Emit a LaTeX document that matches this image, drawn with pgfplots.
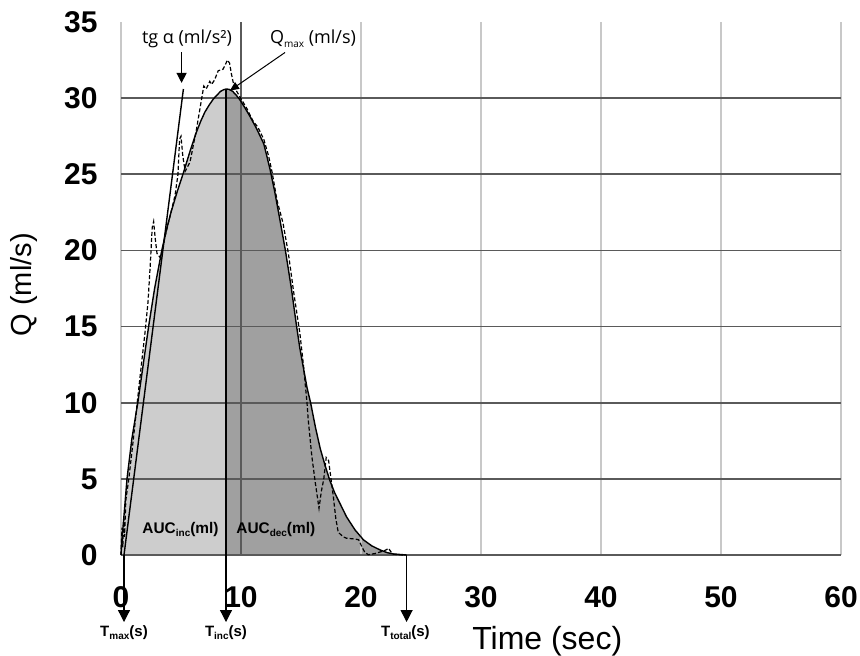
\documentclass[border=0pt]{standalone}
\usepackage{fontspec}
\setmainfont{Liberation Sans}
\newfontfamily\annfont{Open Sans}
\usepackage{pgfplots}
\pgfplotsset{compat=1.18}
\usetikzlibrary{arrows.meta}

\definecolor{incfill}{RGB}{205,205,205}
\definecolor{decfill}{RGB}{160,160,160}
\definecolor{hgrid}{RGB}{90,90,90}
\definecolor{vgrid}{RGB}{200,200,200}

\newcommand{\sub}[1]{\raisebox{-0.35ex}{\fontsize{5}{6}\selectfont #1}}

\begin{document}
\begin{tikzpicture}
\begin{axis}[
  at={(0,0)}, anchor=south west,
  scale only axis, width=360pt, height=266.5pt,
  xmin=0, xmax=60, ymin=0, ymax=35,
  xtick={0,10,...,60}, ytick={0,5,...,30},
  extra y ticks={35}, extra y tick style={grid=none},
  axis line style={draw=none},
  major tick length=0pt,
  xmajorgrids, ymajorgrids,
  every axis x grid/.style={vgrid, line width=0.7pt},
  every axis y grid/.style={hgrid, line width=0.8pt},
  ticklabel style={font=\fontsize{15}{17}\selectfont\bfseries, inner sep=0pt},
  xticklabel style={yshift=-15.5pt},
  yticklabel style={xshift=-11.5pt},
  /pgf/number format/assume math mode=true,
  set layers,
  clip=false,
]
% AUC fills under the fitted curve
\addplot[draw=none, fill=incfill, on layer=axis background] coordinates {
(0,0) (0.1,1.2) (0.25,2.6) (0.5,5) (0.9,7.6) (1.4,10) (1.85,12.5) (2.3,15)
(2.8,17.5) (3.4,20) (3.8,21.4) (4.2,22.6) (4.7,23.9) (5.2,25.1) (5.75,26.5)
(6.3,27.8) (6.65,28.5) (7.0,29.1) (7.35,29.55) (7.7,29.95) (8.0,30.2)
(8.3,30.45) (8.55,30.55) (8.75,30.6)
} \closedcycle;
\addplot[draw=none, fill=decfill, on layer=axis background] coordinates {
(8.75,30.6) (9.0,30.58) (9.3,30.45) (9.6,30.2) (9.9,29.9) (10.3,29.4)
(10.75,28.8) (11.3,28.0) (11.9,27.0) (12.4,25.4) (12.8,23.9) (13.2,22.2)
(13.7,20) (14.2,17.5) (14.6,15.2) (14.9,13.6) (15.2,12.3) (15.5,11.0)
(15.8,10) (16.2,8.4) (16.6,7.0) (17.0,5.9) (17.4,4.9) (17.8,4.1) (18.3,3.3)
(18.8,2.5) (19.5,1.65) (20.2,1.0) (20.9,0.6) (21.6,0.33) (22.2,0.15)
(22.7,0.07) (23.8,0)
} \closedcycle;

\draw[hgrid, line width=0.7pt] (axis cs:10,0) -- (axis cs:10,35);

% fitted curve
\addplot[black, line width=0.7pt] coordinates {
(0,0) (0.1,1.2) (0.25,2.6) (0.5,5) (0.9,7.6) (1.4,10) (1.85,12.5) (2.3,15)
(2.8,17.5) (3.4,20) (3.8,21.4) (4.2,22.6) (4.7,23.9) (5.2,25.1) (5.75,26.5)
(6.3,27.8) (6.65,28.5) (7.0,29.1) (7.35,29.55) (7.7,29.95) (8.0,30.2)
(8.3,30.45) (8.55,30.55) (8.75,30.6) (9.0,30.58) (9.3,30.45) (9.6,30.2)
(9.9,29.9) (10.3,29.4) (10.75,28.8) (11.3,28.0) (11.9,27.0) (12.4,25.4)
(12.8,23.9) (13.2,22.2) (13.7,20) (14.2,17.5) (14.6,15.2) (14.9,13.6)
(15.2,12.3) (15.5,11.0) (15.8,10) (16.2,8.4) (16.6,7.0) (17.0,5.9) (17.4,4.9)
(17.8,4.1) (18.3,3.3) (18.8,2.5) (19.5,1.65) (20.2,1.0) (20.9,0.6)
(21.6,0.33) (22.2,0.15) (22.7,0.07) (23.8,0)
};

% measured flow (dashed)
\addplot[black, line width=0.6pt, dash pattern=on 2pt off 1.1pt] coordinates {
(0,0) (0.08,1.8) (0.15,0.5) (0.22,2.4) (0.3,1.2) (0.4,3.6) (0.65,5) (1.0,7.4)
(1.35,10) (1.7,12.5) (2.0,14.6) (2.25,16.6) (2.45,19.2) (2.6,21.5) (2.72,21.9)
(2.85,20.8) (3.0,19.8) (3.3,19.5) (3.7,21.0) (4.1,22.3) (4.5,23.6) (4.75,25.0)
(4.88,27.3) (5.0,27.5) (5.15,26.2) (5.35,25.2) (5.75,25.8) (6.0,26.8)
(6.3,28.0) (6.6,29.4) (6.9,30.8) (7.1,30.6) (7.4,31.1) (7.55,30.9) (7.8,31.2)
(8.1,31.8) (8.5,31.9) (8.7,32.2) (8.86,32.5) (9.05,32.3) (9.2,31.6)
(9.36,31.0) (9.6,30.5) (9.9,30.1) (10.5,29.3) (11.0,28.5) (11.4,28.1)
(11.9,27.3) (12.3,26.2) (12.6,25.1) (13.0,23.3) (13.5,21.8) (13.95,19.8)
(14.4,17.2) (14.9,14.6) (15.2,12.5) (15.5,10) (15.6,8.9) (15.9,6.5)
(16.2,4.7) (16.5,3.07) (16.7,4.2) (16.9,5.0) (17.1,6.4) (17.3,6.2) (17.5,5.0)
(17.7,3.8) (17.9,2.4) (18.1,1.5) (18.5,1.2) (18.8,1.1) (19.5,1.05) (19.8,1.0)
(20.1,0.5) (20.3,0.2) (20.6,0.02) (21.2,0.1) (21.6,0.2) (22.0,0.3) (22.3,0.44)
(22.5,0.2) (22.7,0.05) (23.5,0)
};

% tangent line (tg alpha)
\addplot[black, line width=0.7pt] coordinates {(0.25,0) (5.2,30.6)};

% T_inc line
\draw[black, line width=1.1pt] (axis cs:8.75,30.6) -- (axis cs:8.75,0);

% arrows below the axis
\foreach \t in {0.25,8.75,23.8}{
  \edef\tmp{\noexpand\draw[black, line width=0.6pt, -{Triangle[length=6pt,width=6pt]}] (axis cs:\t,0) -- (axis cs:\t,-4.4);}
  \tmp
}
\node[font=\fontsize{7.5}{9}\selectfont\bfseries, anchor=base] at (axis cs:0.25,-5.38) {T\sub{max}(s)};
\node[font=\fontsize{7.5}{9}\selectfont\bfseries, anchor=base] at (axis cs:8.75,-5.38) {T\sub{inc}(s)};
\node[font=\fontsize{7.5}{9}\selectfont\bfseries, anchor=base] at (axis cs:23.7,-5.38) {T\sub{total}(s)};

% AUC labels
\node[font=\fontsize{7.7}{9}\selectfont\bfseries, anchor=base] at (axis cs:4.96,1.41) {AUC\sub{inc}(ml)};
\node[font=\fontsize{7.7}{9}\selectfont\bfseries, anchor=base] at (axis cs:12.9,1.41) {AUC\sub{dec}(ml)};

% top annotations
\node[font=\annfont\fontsize{9}{10}\selectfont] at (axis cs:5.5,33.9) {tg α (ml/s²)};
\node[font=\annfont\fontsize{9}{10}\selectfont] at (axis cs:16.0,33.9) {Q{\annfont\sub{max}} (ml/s)};
\draw[black, line width=0.6pt, -{Triangle[length=5pt,width=5pt]}] (axis cs:5.05,33.0) -- (axis cs:5.05,31.0);
\draw[black, line width=0.5pt, -{Triangle[length=4.5pt,width=4pt]}] (axis cs:13.67,33.0) -- (axis cs:9.08,30.5);

% axis titles
\node[font=\fontsize{14.5}{16}\selectfont, rotate=90] at ([xshift=-48.5pt]rel axis cs:0,0.507) {Q (ml/s)};
\node[font=\fontsize{16}{18}\selectfont] at ([yshift=-43pt]rel axis cs:0.592,0) {Time (sec)};
\end{axis}
\pgfresetboundingbox
\path[use as bounding box] (-60.5pt,-50pt) rectangle (369.5pt,277.5pt);
\end{tikzpicture}
\end{document}
